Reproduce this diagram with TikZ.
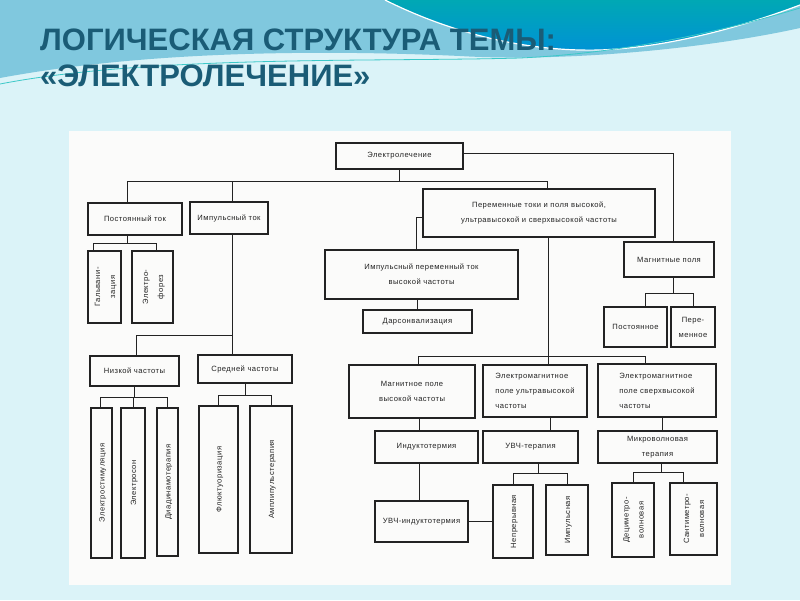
\documentclass[tikz,border=0pt]{standalone}
\usepackage{fontspec}
\usepackage{graphicx}
\usepackage{tikz}
\setmainfont{Liberation Sans}
\newfontfamily\scanfont[LetterSpace=6.0]{Liberation Sans}

\definecolor{bgcyan}{RGB}{219,243,248}
\definecolor{midblue}{RGB}{128,200,222}
\definecolor{darkteal}{RGB}{0,168,180}
\definecolor{darkblue}{RGB}{0,146,214}
\definecolor{turq}{RGB}{60,200,200}
\definecolor{titleteal}{RGB}{26,92,118}
\definecolor{paper}{RGB}{251,251,250}
\definecolor{ink}{RGB}{35,35,35}

\newcommand{\vtext}[1]{\rotatebox{90}{\begin{tabular}{@{}c@{}}#1\end{tabular}}}

\begin{document}
\begin{tikzpicture}[x=1pt, y=-1pt,
    box/.style={draw=ink, line width=1.3pt, fill=paper, inner sep=0pt, align=center,
      text=ink, font=\scanfont\fontsize{7.6}{15}\selectfont},
    conn/.style={draw=ink, line width=1pt}]
    \useasboundingbox (0,0) rectangle (800,600);

    % slide background
    \fill[bgcyan] (0,0) rectangle (800,600);
    \fill[midblue] (0,0) -- (800,0) -- (800,28) .. controls (700,50) and (560,62) .. (460,56)
      .. controls (330,50) and (150,50) .. (0,78) -- cycle;
    \shade[top color=darkteal, bottom color=darkblue] (385,0) .. controls (445,30) and (520,52) .. (600,50)
      .. controls (680,47) and (760,20) .. (800,5) -- (800,0) -- cycle;
    \draw[white, line width=1.2pt] (385,0) .. controls (445,30) and (520,52) .. (600,50)
      .. controls (680,47) and (760,20) .. (800,5);
    \draw[turq, line width=0.8pt] (0,84) .. controls (150,55) and (380,62) .. (520,58)
      .. controls (650,52) and (760,20) .. (800,8);

    % title
    \node[anchor=base west, inner sep=0pt, text=titleteal, font=\bfseries\fontsize{31}{36}\selectfont]
      (title1) at (40,50) {ЛОГИЧЕСКАЯ СТРУКТУРА ТЕМЫ:};
    \node[anchor=base west, inner sep=0pt, text=titleteal, font=\bfseries\fontsize{31}{36}\selectfont]
      (title2) at (40,86) {«ЭЛЕКТРОЛЕЧЕНИЕ»};

    % scanned sheet
    \fill[paper] (69,131) rectangle (731,585);

    % first level
    \node[box, minimum width=127, minimum height=26] (elec) at (399.5,156) {Электролечение};
    \node[box, minimum width=94, minimum height=32] (dctok) at (135,219) {Постоянный ток};
    \node[box, minimum width=78, minimum height=32] (imptok) at (229,218) {Импульсный ток};
    \node[box, minimum width=232, minimum height=48] (hftok) at (539,213)
      {Переменные токи и поля высокой,\\ультравысокой и сверхвысокой частоты};
    \node[box, minimum width=90, minimum height=35] (magpol) at (669,259.5) {Магнитные поля};

    % second level
    \node[box, minimum width=33, minimum height=72] (galv) at (104.5,287) {\vtext{Гальвани-\\зация}};
    \node[box, minimum width=41, minimum height=72] (elfor) at (152.5,287) {\vtext{Электро-\\форез}};
    \node[box, minimum width=193, minimum height=49] (imphf) at (421.5,274.5)
      {Импульсный переменный ток\\высокой частоты};
    \node[box, minimum width=109, minimum height=23] (darson) at (417.5,321.5) {Дарсонвализация};
    \node[box, minimum width=63, minimum height=40] (magconst) at (635.5,327) {Постоянное};
    \node[box, minimum width=44, minimum height=40] (magvar) at (693,327) {Пере-\\менное};
    \node[box, minimum width=89, minimum height=30] (lowfr) at (134.5,371) {Низкой частоты};
    \node[box, minimum width=94, minimum height=28] (midfr) at (245,369) {Средней частоты};

    \node[box, minimum width=21, minimum height=150] (estim) at (101.5,483) {\vtext{Электростимуляция}};
    \node[box, minimum width=24, minimum height=150] (eson) at (133,483) {\vtext{Электросон}};
    \node[box, minimum width=21, minimum height=148] (diad) at (167.5,482) {\vtext{Диадинамотерапия}};
    \node[box, minimum width=39, minimum height=147] (fluct) at (218.5,479.5) {\vtext{Флюктуоризация}};
    \node[box, minimum width=42, minimum height=147] (ampl) at (271,479.5) {\vtext{Амплипульстерапия}};

    % high frequency branch
    \node[box, minimum width=126, minimum height=53] (maghf) at (412,391.5) {Магнитное поле\\высокой частоты};
    \node[box, minimum width=104, minimum height=52, align=left] (emuhf) at (535,391)
      {Электромагнитное\\поле ультравысокой\\частоты};
    \node[box, minimum width=118, minimum height=53, align=left] (emshf) at (657,390.5)
      {Электромагнитное\\поле сверхвысокой\\частоты};
    \node[box, minimum width=103, minimum height=32] (induct) at (426.5,447) {Индуктотермия};
    \node[box, minimum width=95, minimum height=32] (uhfter) at (530.5,447) {УВЧ-терапия};
    \node[box, minimum width=119, minimum height=32] (micro) at (657.5,447) {Микроволновая\\терапия};
    \node[box, minimum width=93, minimum height=41] (uhfind) at (421.5,521.5) {УВЧ-индуктотермия};
    \node[box, minimum width=40, minimum height=73] (contin) at (513,521.5) {\vtext{Непрерывная}};
    \node[box, minimum width=42, minimum height=70] (impuls) at (567,520) {\vtext{Импульсная}};
    \node[box, minimum width=42, minimum height=74] (decim) at (633,520) {\vtext{Дециметро-\\волновая}};
    \node[box, minimum width=47, minimum height=72] (centim) at (693.5,519) {\vtext{Сантиметро-\\волновая}};

    % main bus
    \coordinate (bus) at (0,181);
    \draw[conn] (elec.south) -- (elec.south |- bus);
    \draw[conn] ([xshift=-8pt]dctok.north) |- ([xshift=8pt]hftok.north |- bus) -- ([xshift=8pt]hftok.north);
    \draw[conn] ([xshift=3pt]imptok.north) -- ([xshift=3pt]imptok.north |- bus);
    \draw[conn] ([yshift=3pt]elec.east) -| ([xshift=4pt]magpol.north);

    % direct current
    \coordinate (dcbus) at (0,243);
    \draw[conn] ([xshift=-8pt]dctok.south) -- ([xshift=-8pt]dctok.south |- dcbus);
    \draw[conn] ([xshift=-11pt]galv.north) |- ([xshift=4pt]elfor.north |- dcbus) -- ([xshift=4pt]elfor.north);

    % pulse current
    \coordinate (ibus) at (0,335);
    \draw[conn] ([xshift=3pt]imptok.south) -- ([xshift=-13pt]midfr.north);
    \draw[conn] ([xshift=3pt]imptok.south |- ibus) -| ([xshift=2pt]lowfr.north);
    \coordinate (lbus) at (0,397);
    \draw[conn] (lowfr.south) -- (lowfr.south |- lbus);
    \draw[conn] ([xshift=-1.5pt]estim.north) |- (diad.north |- lbus) -- (diad.north);
    \draw[conn] (eson.north) -- (eson.north |- lbus);
    \coordinate (mbus) at (0,395);
    \draw[conn] (midfr.south) -- (midfr.south |- mbus);
    \draw[conn] (fluct.north) |- (ampl.north |- mbus) -- (ampl.north);

    % alternating currents and fields
    \draw[conn] ([yshift=-4pt]hftok.west) -| ([xshift=-5pt]imphf.north);
    \draw[conn] ([xshift=-4pt]imphf.south) -- (darson.north);
    \coordinate (vbus) at (0,356);
    \draw[conn] ([xshift=9pt]hftok.south) -- ([xshift=13pt]emuhf.north);
    \draw[conn] ([xshift=6pt]maghf.north) |- ([xshift=-12pt]emshf.north |- vbus) -- ([xshift=-12pt]emshf.north);

    % magnetic fields
    \coordinate (gbus) at (0,293);
    \draw[conn] ([xshift=4pt]magpol.south) -- ([xshift=4pt]magpol.south |- gbus);
    \draw[conn] ([xshift=10pt]magconst.north) |- (magvar.north |- gbus) -- (magvar.north);

    % therapies
    \draw[conn] ([xshift=7pt]maghf.south) -- ([xshift=-7.5pt]induct.north);
    \draw[conn] ([xshift=-7.5pt]induct.south) -- ([xshift=-2.5pt]uhfind.north);
    \draw[conn] (uhfind.east) -- (uhfind.east -| contin.west);
    \draw[conn] ([xshift=15pt]emuhf.south) -- ([xshift=19.5pt]uhfter.north);
    \draw[conn] ([xshift=5pt]emshf.south) -- ([xshift=4.5pt]micro.north);
    \coordinate (ubus) at (0,473);
    \draw[conn] ([xshift=7.5pt]uhfter.south) -- ([xshift=7.5pt]uhfter.south |- ubus);
    \draw[conn] (contin.north) |- (impuls.north |- ubus) -- (impuls.north);
    \coordinate (wbus) at (0,472);
    \draw[conn] ([xshift=3.5pt]micro.south) -- ([xshift=3.5pt]micro.south |- wbus);
    \draw[conn] (decim.north) |- ([xshift=-10.5pt]centim.north |- wbus) -- ([xshift=-10.5pt]centim.north);
\end{tikzpicture}
\end{document}
